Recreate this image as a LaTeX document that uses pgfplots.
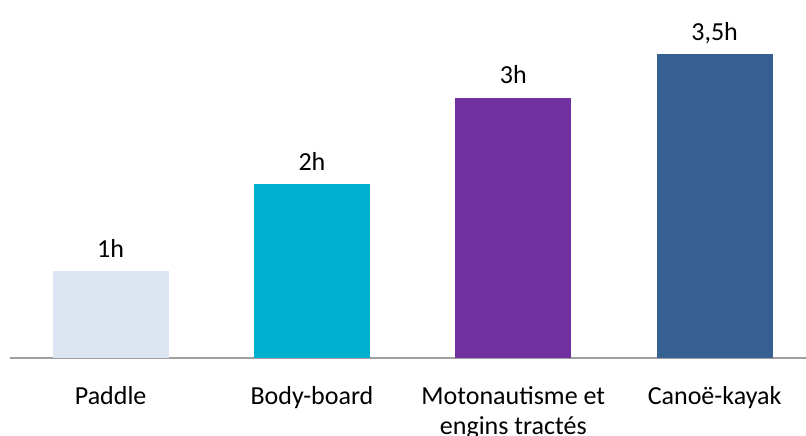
\documentclass[border=0pt]{standalone}
\usepackage{fontspec}
\setmainfont{Carlito}
\usepackage{pgfplots}
\pgfplotsset{compat=1.18}
\definecolor{cPaddle}{HTML}{DCE6F2}
\definecolor{cBody}{HTML}{00B0D0}
\definecolor{cMoto}{HTML}{7030A0}
\definecolor{cCanoe}{HTML}{376092}
\definecolor{axisgrey}{HTML}{A0A0A0}

\begin{document}
\begin{tikzpicture}
\begin{axis}[
    at={(10pt,78pt)}, anchor=south west,
    scale only axis,
    width=796pt, height=358pt,
    xmin=-0.5, xmax=3.454,
    ymin=0, ymax=4.124,
    ybar, bar width=116pt, bar shift=0pt,
    clip=false,
    axis y line=none,
    axis x line*=bottom,
    x axis line style={draw=axisgrey, line width=1.6pt, -},
    xtick={0,1,2,3},
    xticklabels={\strut Paddle, \strut Body-board, {\strut Motonautisme et\\engins tractés}, \strut Canoë-kayak},
    major tick length=0pt,
    xticklabel style={align=center, anchor=north, inner sep=0pt, yshift=-25pt,
        font=\fontsize{26}{30}\selectfont},
    point meta=explicit symbolic,
    nodes near coords={\pgfplotspointmeta},
    every node near coord/.append style={font=\fontsize{26}{30}\selectfont,
        anchor=base, yshift=14pt},
]
\addplot[fill=cPaddle, draw=none] coordinates {(0,1) [1h]};
\addplot[fill=cBody, draw=none] coordinates {(1,2) [2h]};
\addplot[fill=cMoto, draw=none] coordinates {(2,3) [3h]};
\addplot[fill=cCanoe, draw=none] coordinates {(3,3.5) [3,5h]};
\end{axis}
\pgfresetboundingbox
\useasboundingbox (0,0) rectangle (806pt,436pt);
\end{tikzpicture}
\end{document}
